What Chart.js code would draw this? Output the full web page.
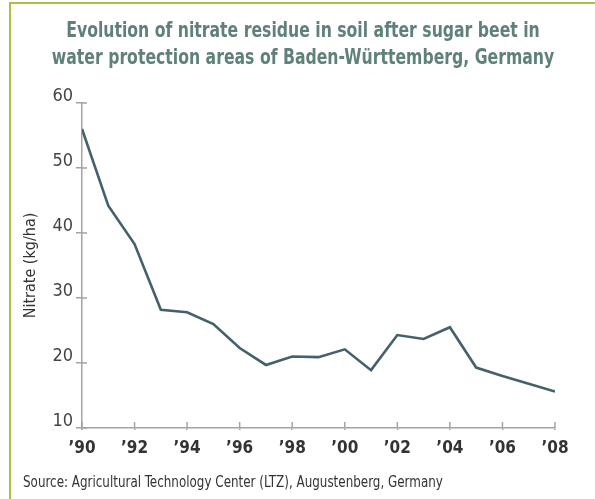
<!DOCTYPE html>
<html>
<head>
<meta charset="utf-8">
<script src="https://cdn.jsdelivr.net/npm/chart.js@4/dist/chart.umd.min.js"></script>
<style>
  html, body { margin: 0; padding: 0; background: #fff; }
  #wrap { position: relative; width: 595px; height: 499px; overflow: hidden; }
  #c { position: absolute; left: 0; top: 0; }
  .bt { position: absolute; left: 9px; top: 2px; right: 0; height: 2px; background: #a9c23f; }
  .bl { position: absolute; left: 9px; top: 2px; bottom: 0; width: 2px; background: #a9c23f; }
  .tl { position: absolute; left: -97px; width: 800px; text-align: center; white-space: nowrap;
    font-family: "Liberation Sans Narrow", "DejaVu Sans Condensed", "Roboto", sans-serif;
    font-stretch: condensed; font-weight: bold; font-size: 21px; line-height: 27px; color: #5f807b;
    transform: scaleX(0.83); transform-origin: 50% 0; }
  #source { position: absolute; left: 23px; top: 472px;
    font-family: "Liberation Sans Narrow", "DejaVu Sans Condensed", "Roboto", sans-serif;
    font-stretch: condensed; font-size: 15px; line-height: 20px; color: #333; white-space: nowrap;
    transform: scaleX(0.885); transform-origin: 0 0; }
</style>
</head>
<body>
<div id="wrap">
  <canvas id="c" width="595" height="499"></canvas>
  <div class="bt"></div>
  <div class="bl"></div>
  <div class="tl" style="top:17px">Evolution of nitrate residue in soil after sugar beet in</div>
  <div class="tl" style="top:44px">water protection areas of Baden-Württemberg, Germany</div>
  <div id="source">Source: Agricultural Technology Center (LTZ), Augustenberg, Germany</div>
</div>
<script>
const years = [1990,1991,1992,1993,1994,1995,1996,1997,1998,1999,2000,2001,2002,2003,2004,2005,2006,2007,2008];
const nitrate = [56, 44.2, 38.3, 28.2, 27.8, 26.0, 22.3, 19.7, 21.0, 20.9, 22.1, 18.9, 24.3, 23.7, 25.5, 19.3, 18.0, 16.8, 15.6];
const yTicks = [10, 20, 30, 40, 50, 60];
const xTicks = [1990,1992,1994,1996,1998,2000,2002,2004,2006,2008];
const yTitle = 'Nitrate (kg/ha)';

const FONT = '"Liberation Sans Narrow", "DejaVu Sans Condensed", "Roboto", sans-serif';
const AXIS = '#a3a3a3';

const innerTicks = {
  id: 'innerTicks',
  afterDraw(chart) {
    const ctx = chart.ctx;
    const xs = chart.scales.x, ys = chart.scales.y;
    ctx.save();
    ctx.strokeStyle = AXIS;
    ctx.lineWidth = 1.5;
    ctx.beginPath();
    yTicks.forEach(v => {
      const py = ys.getPixelForValue(v);
      ctx.moveTo(xs.left, py); ctx.lineTo(xs.left + 5, py);
    });
    xTicks.forEach(v => {
      const px = xs.getPixelForValue(v);
      ctx.moveTo(px, ys.bottom); ctx.lineTo(px, ys.bottom - 6);
    });
    ctx.stroke();
    ctx.restore();
  }
};

new Chart(document.getElementById('c'), {
  type: 'line',
  data: {
    datasets: [{
      data: years.map((y, i) => ({ x: y, y: nitrate[i] })),
      borderColor: '#45606d',
      borderWidth: 2.6,
      pointRadius: 0,
      tension: 0,
      fill: false
    }]
  },
  options: {
    responsive: false,
    animation: false,
    layout: { padding: { left: 10, right: 40, top: 103, bottom: 0 } },
    plugins: { legend: { display: false }, title: { display: false }, tooltip: { enabled: false } },
    scales: {
      x: {
        type: 'linear', min: 1990, max: 2008,
        afterBuildTicks(s) { s.ticks = xTicks.map(v => ({ value: v })); },
        afterFit(s) { s.height = 71; },
        grid: { display: true, drawOnChartArea: false, color: AXIS, lineWidth: 1.5, tickLength: 2 },
        border: { display: true, color: AXIS, width: 1.5 },
        ticks: {
          autoSkip: false, maxRotation: 0, padding: 8, color: '#333',
          font: { family: FONT, size: 17, weight: 'bold' },
          callback: v => '\u2019' + String(v).slice(2)
        }
      },
      y: {
        min: 10, max: 60,
        afterBuildTicks(s) { s.ticks = yTicks.map(v => ({ value: v })); },
        afterFit(s) { s.width = 72; },
        grid: { display: true, drawOnChartArea: false, color: AXIS, lineWidth: 1.5, tickLength: 6 },
        border: { display: true, color: AXIS, width: 1.5 },
        title: { display: true, text: yTitle, color: '#333', font: { family: FONT, size: 16 }, padding: { top: 11, bottom: 0 } },
        ticks: { padding: 3, labelOffset: -7, color: '#444', font: { family: FONT, size: 18 } }
      }
    }
  },
  plugins: [innerTicks]
});
</script>
</body>
</html>
